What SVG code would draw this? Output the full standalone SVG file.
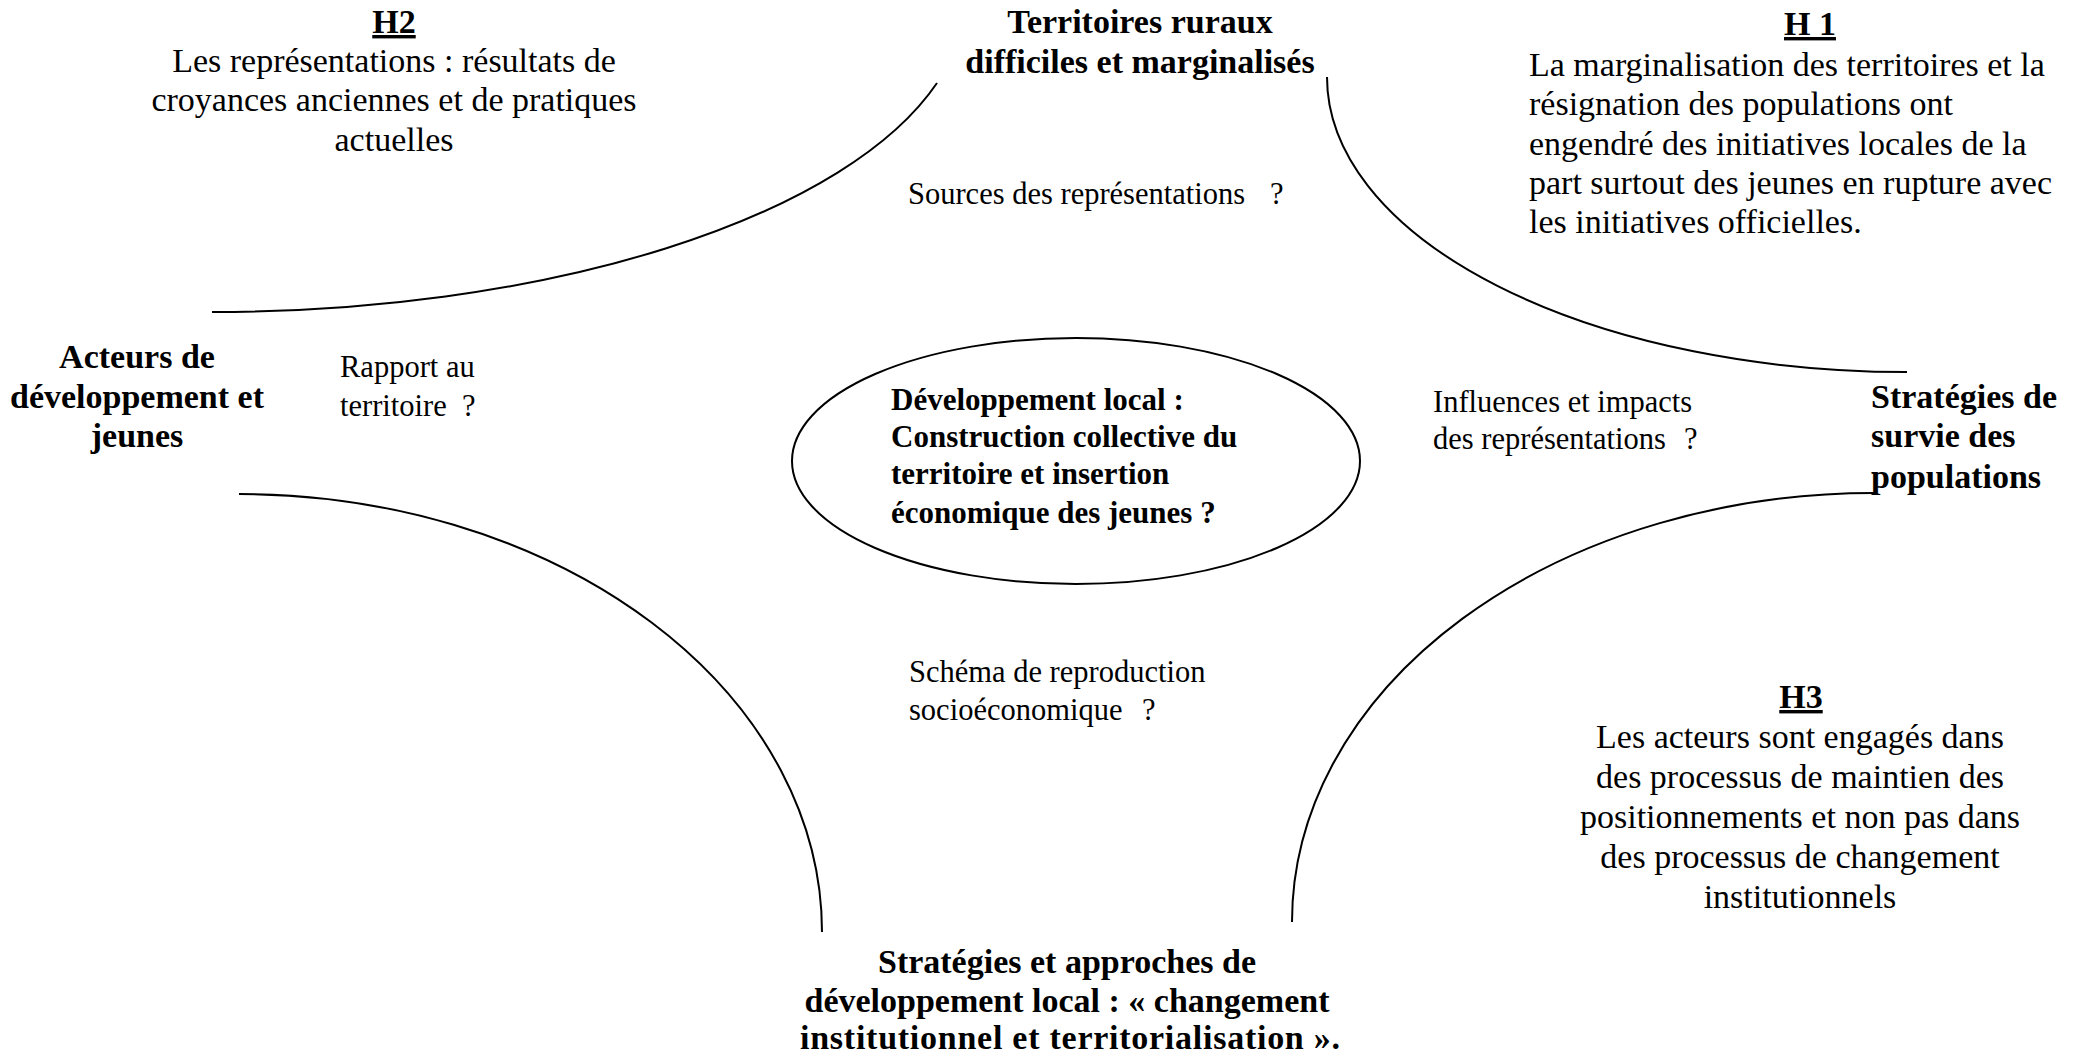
<svg xmlns="http://www.w3.org/2000/svg" width="2085" height="1059" viewBox="0 0 2085 1059">
<style>
text{font-family:"Liberation Serif","Times New Roman",serif;fill:#000}
.b{font-weight:bold;font-size:34px}
.t{font-size:34px}
.l{font-size:30.5px}
.e{font-weight:bold;font-size:31px}
.c{text-anchor:middle}
.u{text-decoration:underline}
.arc{fill:none;stroke:#000;stroke-width:2}
</style>
<rect width="2085" height="1059" fill="#fff"/>
<g id="connectors">
<path class="arc" d="M212,312 A754,315 0 0 0 937,83"/>
<path class="arc" d="M1327,77 A580,295 0 0 0 1907,372"/>
<path class="arc" d="M239,494 A583,438 0 0 1 822,932"/>
<path class="arc" d="M1874,493 A582,429 0 0 0 1292,922"/>
</g>
<g id="h2">
<text class="b c u" x="394" y="33">H2</text>
<text class="t c" x="394" y="72">Les représentations : résultats de</text>
<text class="t c" x="394" y="111">croyances anciennes et de pratiques</text>
<text class="t c" x="394" y="151">actuelles</text>
</g>
<g id="territoires">
<text class="b c" x="1140" y="33">Territoires ruraux</text>
<text class="b c" x="1140" y="73">difficiles et marginalisés</text>
</g>
<g id="h1">
<text class="b c u" x="1810" y="35">H 1</text>
<text class="t" x="1529" y="76">La marginalisation des territoires et la</text>
<text class="t" x="1529" y="115">résignation des populations ont</text>
<text class="t" x="1529" y="155">engendré des initiatives locales de la</text>
<text class="t" x="1529" y="194">part surtout des jeunes en rupture avec</text>
<text class="t" x="1529" y="233">les initiatives officielles.</text>
</g>
<g id="sources">
<text class="l" x="908" y="204">Sources des représentations <tspan x="1270">?</tspan></text>
</g>
<g id="acteurs">
<text class="b c" x="137" y="368">Acteurs de</text>
<text class="b c" x="137" y="408">développement et</text>
<text class="b c" x="137" y="447">jeunes</text>
</g>
<g id="rapport">
<text class="l" x="340" y="377">Rapport au</text>
<text class="l" x="340" y="416">territoire <tspan x="462">?</tspan></text>
</g>
<g id="centre">
<ellipse cx="1076" cy="461" rx="284" ry="123" class="arc"/>
<text class="e" x="891" y="410">Développement local :</text>
<text class="e" x="891" y="447">Construction collective du</text>
<text class="e" x="891" y="484">territoire et insertion</text>
<text class="e" x="891" y="523">économique des jeunes ?</text>
</g>
<g id="influences">
<text class="l" x="1433" y="412">Influences et impacts</text>
<text class="l" x="1433" y="449">des représentations <tspan x="1684">?</tspan></text>
</g>
<g id="strategies-survie">
<text class="b" x="1871" y="408">Stratégies de</text>
<text class="b" x="1871" y="447">survie des</text>
<text class="b" x="1871" y="488">populations</text>
</g>
<g id="schema">
<text class="l" x="909" y="682">Schéma de reproduction</text>
<text class="l" x="909" y="720">socioéconomique <tspan x="1142">?</tspan></text>
</g>
<g id="h3">
<text class="b c u" x="1801" y="708">H3</text>
<text class="t c" x="1800" y="748">Les acteurs sont engagés dans</text>
<text class="t c" x="1800" y="788">des processus de maintien des</text>
<text class="t c" x="1800" y="828">positionnements et non pas dans</text>
<text class="t c" x="1800" y="868">des processus de changement</text>
<text class="t c" x="1800" y="908">institutionnels</text>
</g>
<g id="strategies-approches">
<text class="b c" x="1067" y="973">Stratégies et approches de</text>
<text class="b c" x="1067" y="1012">développement local : « changement</text>
<text class="b" x="800" y="1049" textLength="540">institutionnel et territorialisation ».</text>
</g>
</svg>
